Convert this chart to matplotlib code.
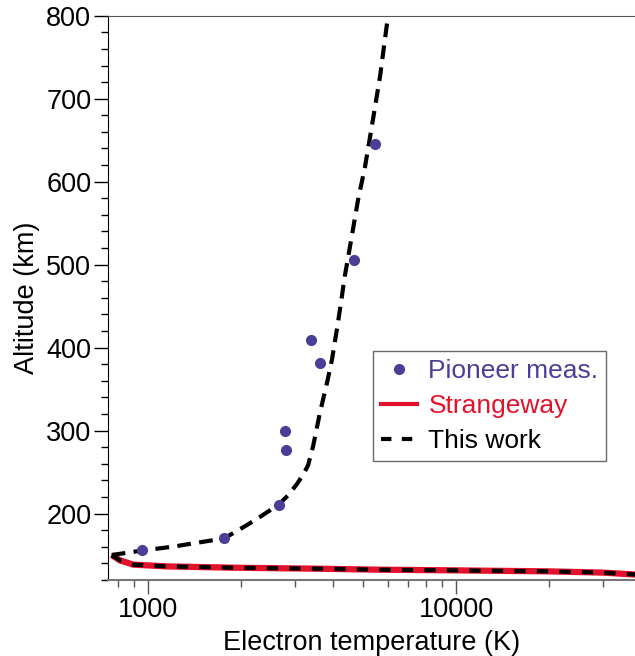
import matplotlib
matplotlib.use("Agg")
import matplotlib.pyplot as plt
from matplotlib.ticker import LogLocator, NullFormatter, FuncFormatter, MultipleLocator
from matplotlib.lines import Line2D

plt.rcParams['font.family'] = ['Liberation Sans', 'DejaVu Sans']

# Pioneer Venus electron temperature measurements
pioneer_T = [956, 1766, 2661, 2785, 2800, 3382, 3614, 4667, 5457]
pioneer_alt = [156, 170, 210, 300, 277, 409, 382, 505, 646]

# This work: electron temperature profile
te_T = [762, 942, 1200, 1766, 2092, 2310, 2661, 2850, 3050, 3200, 3307, 3434,
        3617, 3813, 3957, 4140, 4362, 4585, 4806, 5063, 5324, 5665, 5970, 6100]
te_alt = [150, 155, 160, 170, 186, 196, 211, 222, 236, 248, 258, 281,
          322, 358, 386, 431, 488, 534, 578, 618, 666, 727, 791, 810]

# Strangeway profile (this work coincides with it)
ts_T = [762, 811, 896, 1150, 1892, 3529, 5663, 10000, 20000, 30000, 40000]
ts_alt = [150, 143.5, 138.4, 136.3, 134.7, 133.5, 132.3, 131.5, 130.3, 128.8, 126]

labels = ['Pioneer meas.', 'Strangeway', 'This work']

blue = '#4a3f97'
red = '#e3122c'

fig = plt.figure(figsize=(6.35, 6.56), dpi=100)
ax = fig.add_axes([0.170, 0.116, 0.830, 0.860])

ax.plot(ts_T, ts_alt, color=red, lw=4.5, solid_capstyle='butt')
ax.plot(ts_T, ts_alt, color='black', lw=3, dashes=(2.7, 2.7))
ax.plot(te_T, te_alt, color='black', lw=3, dashes=(3.3, 2))
ax.plot(pioneer_T, pioneer_alt, 'o', color=blue, ms=7, zorder=5)

ax.set_xscale('log')
ax.set_xlim(741, 38100)
ax.set_ylim(120, 800)

ax.xaxis.set_major_locator(LogLocator(base=10, numticks=10))
ax.xaxis.set_major_formatter(FuncFormatter(lambda v, p: '%d' % v))
ax.xaxis.set_minor_locator(LogLocator(base=10, subs=range(2, 10), numticks=20))
ax.xaxis.set_minor_formatter(NullFormatter())
ax.yaxis.set_major_locator(MultipleLocator(100))
ax.yaxis.set_minor_locator(MultipleLocator(20))

ax.tick_params(which='major', direction='out', length=10, width=1, labelsize=19.5, pad=2)
ax.tick_params(which='minor', direction='out', length=5, width=1)
ax.tick_params(axis='x', which='both', color='#555555')

ax.spines['right'].set_visible(False)
ax.spines['top'].set_color('#555555')
ax.spines['bottom'].set_color('#777777')
ax.spines['bottom'].set_linewidth(1.5)

ax.set_xlabel('Electron temperature (K)', fontsize=19.5, labelpad=5)
ax.set_ylabel('Altitude (km)', fontsize=19.5, labelpad=4)

handles = [
    Line2D([], [], ls='none', marker='o', color=blue, ms=7),
    Line2D([], [], color=red, lw=3),
    Line2D([], [], color='black', lw=3, dashes=(2.5, 2.5)),
]
leg = ax.legend(handles, labels, loc='upper left', bbox_to_anchor=(0.503, 0.406),
                borderaxespad=0, fontsize=19, frameon=True, fancybox=False,
                handlelength=1.35, handletextpad=0.45, labelspacing=0.42,
                borderpad=0.3)
leg.get_frame().set_edgecolor('#444444')
leg.get_frame().set_linewidth(1)
for t, c in zip(leg.get_texts(), [blue, red, 'black']):
    t.set_color(c)

fig.savefig('out.png', dpi=100)
